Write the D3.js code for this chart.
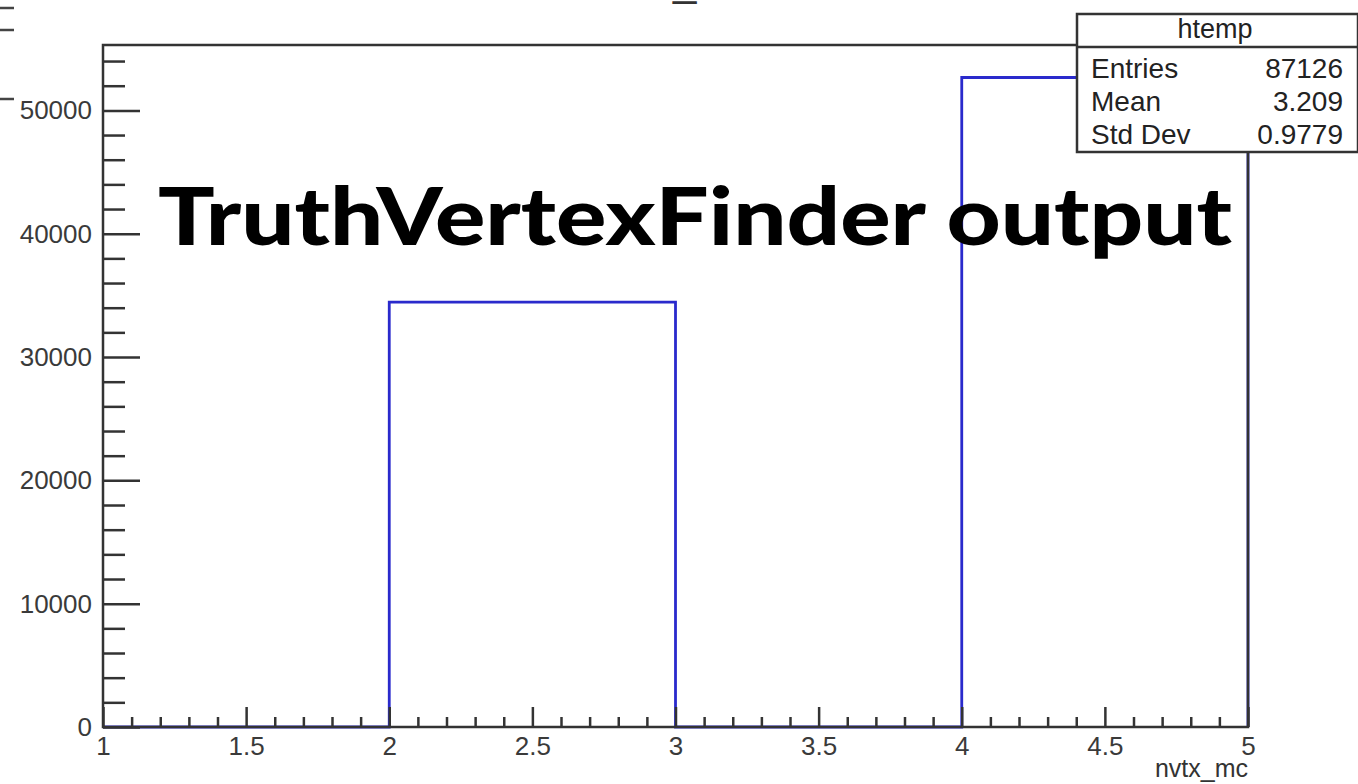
<!DOCTYPE html>
<html lang="en">
<head>
    <meta charset="UTF-8">
    <title>nvtx_mc</title>
    <script src="https://cdn.jsdelivr.net/npm/d3@7"></script>
    <style>
        body{ margin:0; background:#fff; }
        svg{ display:block; }
        .tick text{ font-family:"Liberation Sans", Arial, sans-serif; fill:#3a3a3a; }
    </style>
</head>
<body>
<svg width="1358" height="784"></svg>
<script>
    // histogram nvtx_mc : bin edges and contents
    var binEdges = [1, 2, 3, 4, 5];
    var binCounts = [0, 34458, 0, 52668];

    var yMajorTicks = [0, 10000, 20000, 30000, 40000, 50000];
    var xMajorTicks = [1, 1.5, 2, 2.5, 3, 3.5, 4, 4.5, 5];
    var xTickLabels = ["1", "1.5", "2", "2.5", "3", "3.5", "4", "4.5", "5"];

    var statName = "htemp";
    var statLabels = ["Entries", "Mean", "Std Dev"];
    var statValues = ["87126", "3.209", "0.9779"];

    var histTitle = "nvtx_mc";
    var xTitle = "nvtx_mc";
    var overlayText = "TruthVertexFinder output";

    var svg = d3.select("svg"),
        frameL = 103, frameR = 1248, frameT = 45, frameB = 727,
        axisCol = "#333";

    var yMax = d3.max(binCounts) * 1.05;

    var x = d3.scaleLinear().domain([binEdges[0], binEdges[binEdges.length - 1]]).range([frameL, frameR]);
    var y = d3.scaleLinear().domain([0, yMax]).range([frameB, frameT]);

    // bits of the neighbouring pad, cut off at the left edge
    [8, 30, 99].forEach(function (yy) {
        svg.append("line").attr("x1", 0).attr("x2", 14).attr("y1", yy).attr("y2", yy)
            .attr("stroke", "#444").attr("stroke-width", 2.5);
    });

    // title mostly outside the picture
    svg.append("text")
        .attr("x", 596).attr("y", -4)
        .attr("font-family", "Liberation Sans, Arial, sans-serif")
        .attr("font-size", 42).attr("fill", axisCol)
        .text(histTitle);

    // histogram outline (step line)
    var pts = [];
    binCounts.forEach(function (c, i) {
        pts.push([binEdges[i], c]);
    });
    pts.push([binEdges[binEdges.length - 1], binCounts[binCounts.length - 1]]);
    var pathPts = [[binEdges[0], 0]].concat(pts).concat([[binEdges[binEdges.length - 1], 0]]);

    var line = d3.line()
        .x(function (d) { return x(d[0]); })
        .y(function (d) { return y(d[1]); })
        .curve(d3.curveStepAfter);

    svg.append("path")
        .datum(pathPts)
        .attr("d", line)
        .attr("fill", "none")
        .attr("stroke", "#2a2acc")
        .attr("stroke-width", 2.8);

    // frame
    svg.append("rect")
        .attr("x", frameL).attr("y", frameT)
        .attr("width", frameR - frameL).attr("height", frameB - frameT)
        .attr("fill", "none").attr("stroke", axisCol).attr("stroke-width", 2.5);

    // y axis
    var yMinor = d3.range(0, yMax, 2000).filter(function (v) { return v % 10000 !== 0; });
    svg.append("g").attr("class", "ymin")
        .attr("transform", "translate(" + frameL + ",0)")
        .call(d3.axisLeft(y).tickValues(yMinor).tickSize(-22).tickFormat(""));
    svg.append("g").attr("class", "ymaj")
        .attr("transform", "translate(" + frameL + ",0)")
        .call(d3.axisLeft(y).tickValues(yMajorTicks).tickSize(-37).tickPadding(11).tickFormat(d3.format("d")));

    // x axis
    var xMinor = d3.range(10, 51).map(function (v) { return v / 10; })
        .filter(function (v) { return Math.round(v * 10) % 5 !== 0; });
    svg.append("g").attr("class", "xmin")
        .attr("transform", "translate(0," + frameB + ")")
        .call(d3.axisBottom(x).tickValues(xMinor).tickSize(-10).tickFormat(""));
    svg.append("g").attr("class", "xmaj")
        .attr("transform", "translate(0," + frameB + ")")
        .call(d3.axisBottom(x).tickValues(xMajorTicks).tickSize(-20).tickPadding(10)
            .tickFormat(function (d, i) { return xTickLabels[i]; }));

    svg.selectAll(".domain").remove();
    svg.selectAll(".tick line").attr("stroke", axisCol).attr("stroke-width", 2.5);
    svg.selectAll(".tick text").attr("font-size", 26);

    // x axis title
    svg.append("text")
        .attr("x", frameR).attr("y", 777)
        .attr("text-anchor", "end")
        .attr("font-family", "Liberation Sans, Arial, sans-serif")
        .attr("font-size", 25).attr("fill", axisCol)
        .text(xTitle);

    // stats box
    var sb = svg.append("g").attr("class", "stats");
    sb.append("rect")
        .attr("x", 1077).attr("y", 14).attr("width", 281).attr("height", 138)
        .attr("fill", "#fff").attr("stroke", axisCol).attr("stroke-width", 2.5);
    sb.append("line").attr("x1", 1077).attr("x2", 1358).attr("y1", 47).attr("y2", 47)
        .attr("stroke", axisCol).attr("stroke-width", 2.5);
    sb.append("text")
        .attr("x", 1215).attr("y", 38).attr("text-anchor", "middle")
        .attr("font-family", "Liberation Sans, Arial, sans-serif")
        .attr("font-size", 27).attr("fill", "#222")
        .text(statName);
    sb.selectAll(".slab").data(statLabels).enter().append("text")
        .attr("class", "slab")
        .attr("x", 1091).attr("y", function (d, i) { return 78 + i * 33; })
        .attr("font-family", "Liberation Sans, Arial, sans-serif")
        .attr("font-size", 28).attr("fill", "#222")
        .text(function (d) { return d; });
    sb.selectAll(".sval").data(statValues).enter().append("text")
        .attr("class", "sval")
        .attr("x", 1343).attr("y", function (d, i) { return 78 + i * 33; })
        .attr("text-anchor", "end")
        .attr("font-family", "Liberation Sans, Arial, sans-serif")
        .attr("font-size", 28).attr("fill", "#222")
        .text(function (d) { return d; });

    // big overlay label
    svg.append("text")
        .attr("x", 158).attr("y", 245)
        .attr("font-family", "Lato, 'Open Sans', sans-serif")
        .attr("font-weight", 900)
        .attr("font-size", 80)
        .attr("fill", "#000")
        .attr("textLength", 1074)
        .attr("lengthAdjust", "spacingAndGlyphs")
        .text(overlayText);
</script>
</body>
</html>
